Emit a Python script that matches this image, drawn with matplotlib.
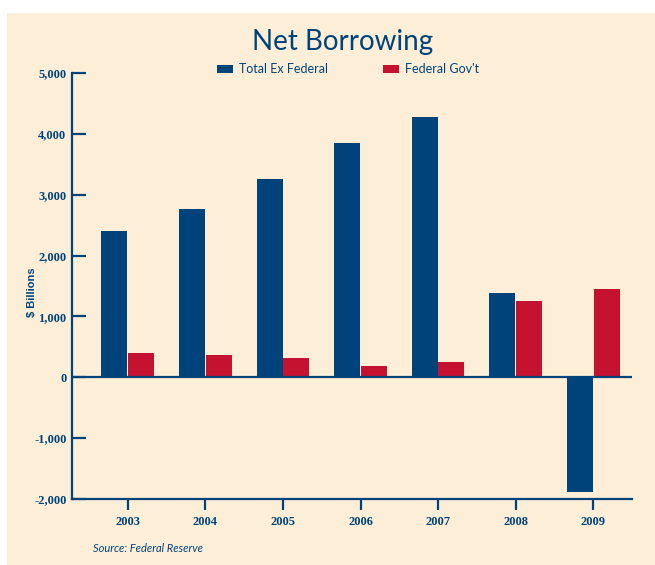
import matplotlib
matplotlib.use("Agg")
import matplotlib.pyplot as plt
import numpy as np
from matplotlib.patches import Rectangle

years = ["2003", "2004", "2005", "2006", "2007", "2008", "2009"]
total_ex_federal = [2400, 2760, 3255, 3850, 4275, 1380, -1890]
federal_govt = [395, 360, 310, 180, 245, 1250, 1445]
y_ticks = [-2000, -1000, 0, 1000, 2000, 3000, 4000, 5000]

navy = "#00437a"
red = "#c41230"
bg = "#fdeed8"

fig = plt.figure(figsize=(6.55, 5.65), dpi=100)
fig.patch.set_facecolor("white")
fig.patches.append(Rectangle((7 / 655, 0), 1 - 7 / 655, 1 - 13 / 565,
                             transform=fig.transFigure, facecolor=bg,
                             edgecolor="none", zorder=-5))

ax = fig.add_axes([72 / 655, 1 - 499 / 565, 560 / 655, 426 / 565])
ax.set_facecolor("none")
ax.set_zorder(2)

x = np.arange(len(years))
w = 0.335
ax.bar(x - w / 2 - 0.005, total_ex_federal, w, color=navy, zorder=2)
ax.bar(x + w / 2 + 0.005, federal_govt, w, color=red, zorder=2)
ax.axhline(0, color=navy, lw=1.6, zorder=3)

ax.set_xlim(-0.72, 6.5)
ax.set_ylim(-2000, 5000)

for s in ["top", "right"]:
    ax.spines[s].set_visible(False)
for s in ["left", "bottom"]:
    ax.spines[s].set_color(navy)
    ax.spines[s].set_linewidth(1.6)

ax.set_yticks(y_ticks)
ax.set_yticklabels([f"{v:,}" for v in y_ticks])
ax.tick_params(axis="y", direction="in", length=10, width=1.6, color=navy,
               labelcolor=navy, pad=4)
ax.set_xticks(x)
ax.set_xticklabels(years)
ax.tick_params(axis="x", direction="out", length=8, width=1.6, color=navy,
               labelcolor=navy, pad=4)
for lab in ax.get_xticklabels() + ax.get_yticklabels():
    lab.set_fontfamily("Liberation Serif")
    lab.set_fontweight("bold")
    lab.set_fontsize(9)

fig.text(32 / 655, 1 - 292 / 565, "$ Billions", rotation=90, ha="center",
         va="center", color=navy, fontsize=8, fontweight="bold",
         family="Liberation Sans")

fig.text(343 / 655, 1 - 42 / 565, "Net Borrowing", ha="center", va="center",
         color=navy, fontsize=20, family="Lato")

# legend
fig.patches.append(Rectangle((217 / 655, 1 - 73 / 565), 16 / 655, 8 / 565,
                             transform=fig.transFigure, facecolor=navy,
                             edgecolor="none"))
fig.text(239 / 655, 1 - 69 / 565, "Total Ex Federal", ha="left", va="center",
         color=navy, fontsize=9, family="Lato")
fig.patches.append(Rectangle((383 / 655, 1 - 73 / 565), 16 / 655, 8 / 565,
                             transform=fig.transFigure, facecolor=red,
                             edgecolor="none"))
fig.text(405 / 655, 1 - 69 / 565, "Federal Gov't", ha="left", va="center",
         color=navy, fontsize=9, family="Lato")

fig.text(93 / 655, 1 - 548 / 565, "Source: Federal Reserve", ha="left",
         va="center", color=navy, fontsize=8, style="italic", family="Lato")

fig.savefig("out.png", dpi=100, facecolor=fig.get_facecolor())
